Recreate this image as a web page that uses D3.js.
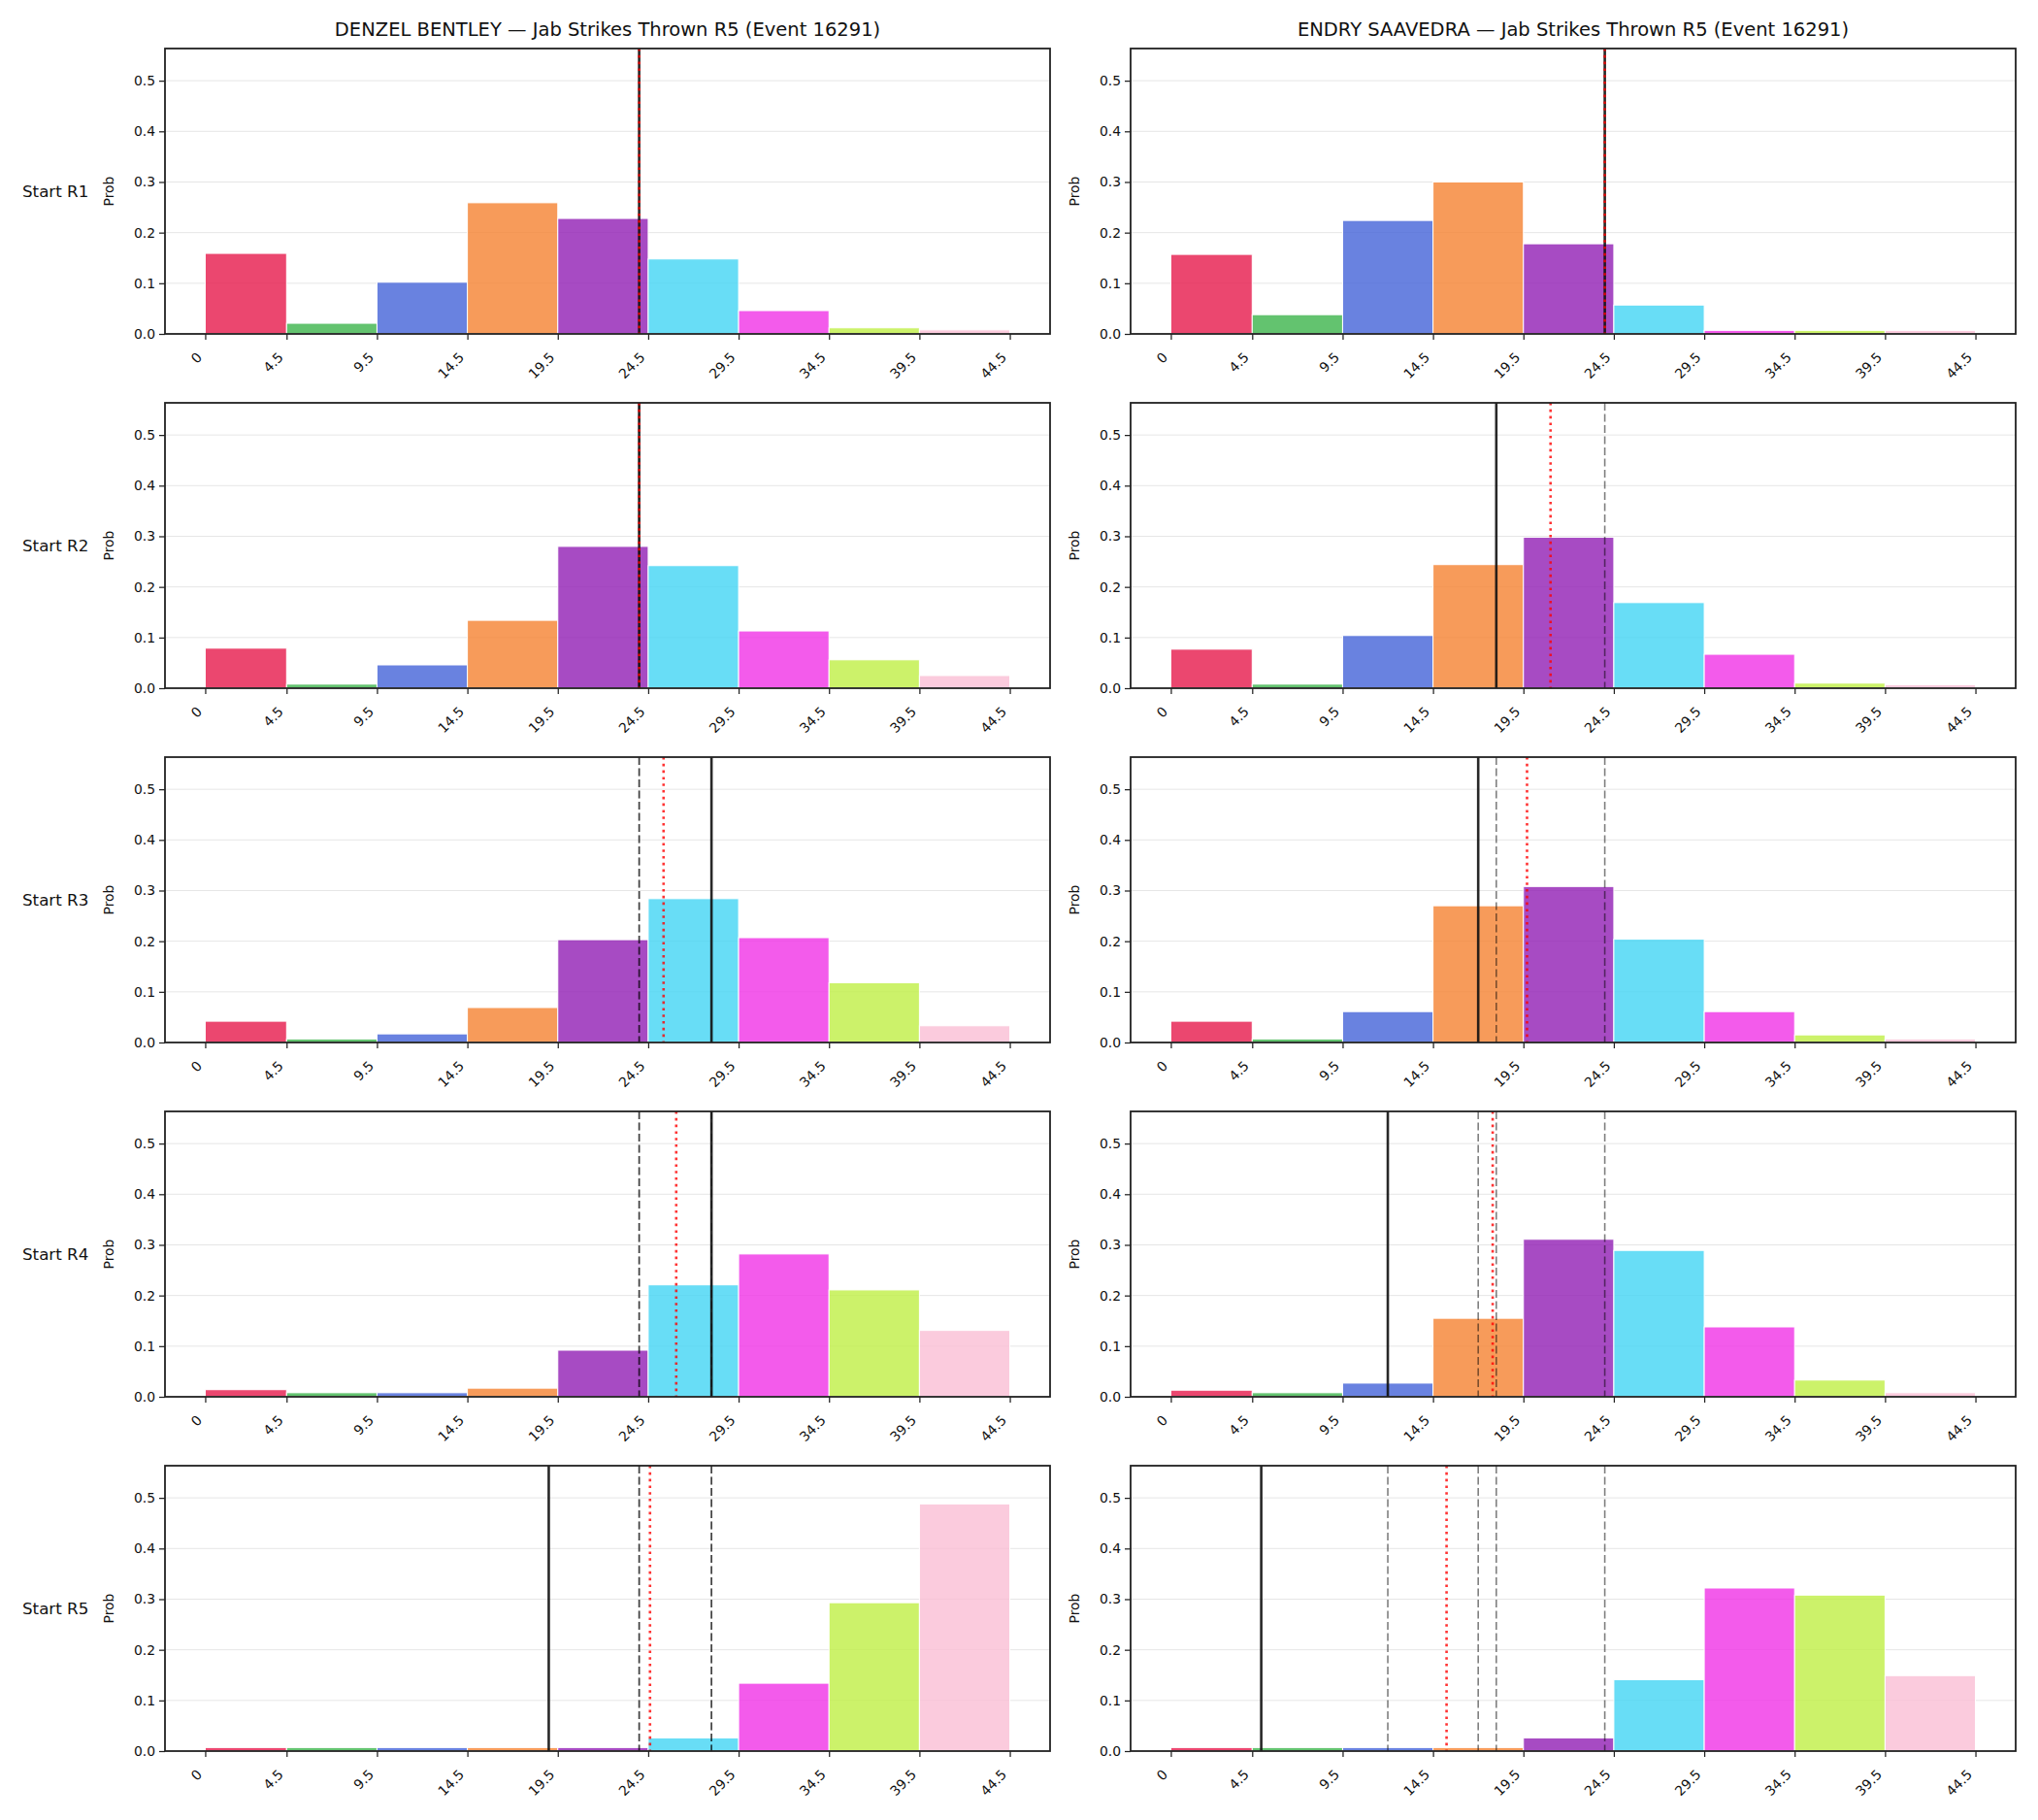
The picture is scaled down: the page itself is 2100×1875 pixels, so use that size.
<!DOCTYPE html>
<html lang="en">
<head>
<meta charset="UTF-8">
<title>Jab Strikes Thrown R5 (Event 16291)</title>
<script src="https://cdn.jsdelivr.net/npm/d3@7"></script>
<style>
    body { margin: 0; background: #fff; }
    svg { font-family: "DejaVu Sans", sans-serif; }
    .grid line { stroke: #e6e6e6; stroke-width: 1; }
    .tick-label { font-size: 13.9px; fill: #111; }
</style>
</head>
<body>
<div id="graphDiv"></div>
<script>
// bin edges of the histogram (also the x tick positions)
const binEdges = [0, 4.5, 9.5, 14.5, 19.5, 24.5, 29.5, 34.5, 39.5, 44.5];
const xTickLabels = ["0", "4.5", "9.5", "14.5", "19.5", "24.5", "29.5", "34.5", "39.5", "44.5"];
const yTicks = [0.0, 0.1, 0.2, 0.3, 0.4, 0.5];
const binColors = ["#e6194b", "#3cb44b", "#4363d8", "#f58231", "#911eb4",
                   "#42d4f4", "#f032e6", "#bfef45", "#fabed4"];

const fighters = ["DENZEL BENTLEY", "ENDRY SAAVEDRA"];
const titleSuffix = " \u2014 Jab Strikes Thrown R5 (Event 16291)";
const rowLabels = ["Start R1", "Start R2", "Start R3", "Start R4", "Start R5"];

// probability per bin, one row per starting round
const denzelProbs = [
    [0.159, 0.021, 0.102, 0.259, 0.228, 0.148, 0.046, 0.012, 0.008],
    [0.079, 0.008, 0.046, 0.134, 0.280, 0.242, 0.113, 0.056, 0.025],
    [0.042, 0.007, 0.017, 0.069, 0.203, 0.284, 0.207, 0.118, 0.033],
    [0.014, 0.008, 0.008, 0.017, 0.092, 0.221, 0.282, 0.211, 0.131],
    [0.007, 0.007, 0.007, 0.007, 0.007, 0.026, 0.134, 0.293, 0.488]
];
const endryProbs = [
    [0.157, 0.038, 0.224, 0.300, 0.178, 0.057, 0.007, 0.007, 0.007],
    [0.077, 0.008, 0.104, 0.244, 0.298, 0.169, 0.067, 0.010, 0.007],
    [0.042, 0.007, 0.061, 0.270, 0.308, 0.204, 0.061, 0.015, 0.007],
    [0.013, 0.008, 0.027, 0.155, 0.311, 0.289, 0.138, 0.033, 0.008],
    [0.007, 0.007, 0.007, 0.007, 0.026, 0.141, 0.322, 0.308, 0.149]
];

// solid black marker per row (earlier rows are shown dashed)
const denzelMarks = [24, 24, 28, 28, 19];
const endryMarks = [24, 18, 17, 12, 5];
// red dotted line per row
const denzelRed = [24, 24, 25.35, 26.05, 24.6];
const endryRed = [24, 21, 19.7, 17.8, 15.25];

const panels = [
    {name: fighters[0], probs: denzelProbs, marks: denzelMarks, red: denzelRed},
    {name: fighters[1], probs: endryProbs, marks: endryMarks, red: endryRed}
];

const width = 2100, height = 1875;
const colX = [170, 1165];
const axW = 912, axH = 294;
const rowTop = 50, rowStep = 365;

const x = d3.scaleLinear().domain([-2.225, 46.725]).range([0, axW]);
const y = d3.scaleLinear().domain([0, 0.5635]).range([axH, 0]);

const svg = d3.select("#graphDiv").append("svg")
    .attr("width", width)
    .attr("height", height);

svg.append("rect").attr("width", width).attr("height", height).attr("fill", "#fff");

panels.forEach((p, c) => {
    // column title
    svg.append("text")
        .attr("x", colX[c] + axW / 2)
        .attr("y", rowTop - 13)
        .attr("text-anchor", "middle")
        .style("font-size", "19.5px")
        .attr("fill", "#111")
        .text(p.name + titleSuffix);

    p.probs.forEach((probs, r) => {
        const g = svg.append("g")
            .attr("transform", `translate(${colX[c]},${rowTop + r * rowStep})`);

        // grid
        g.append("g").attr("class", "grid")
            .selectAll("line")
            .data(yTicks.slice(1))
            .join("line")
            .attr("x1", 0).attr("x2", axW)
            .attr("y1", d => y(d)).attr("y2", d => y(d));

        // bars
        g.append("g")
            .selectAll("rect")
            .data(probs)
            .join("rect")
            .attr("x", (d, i) => x(binEdges[i]))
            .attr("width", (d, i) => x(binEdges[i + 1]) - x(binEdges[i]))
            .attr("y", d => y(d))
            .attr("height", d => y(0) - y(d))
            .attr("fill", (d, i) => binColors[i])
            .attr("fill-opacity", 0.8)
            .attr("stroke", "#fff")
            .attr("stroke-width", 1);

        // earlier markers, dashed
        g.append("g")
            .selectAll("line")
            .data(p.marks.slice(0, r))
            .join("line")
            .attr("x1", d => x(d)).attr("x2", d => x(d))
            .attr("y1", 0).attr("y2", axH)
            .attr("stroke", "#000")
            .attr("stroke-opacity", 0.5)
            .attr("stroke-width", 1.6)
            .attr("stroke-dasharray", "8,3.5");

        // current marker, solid
        g.append("line")
            .attr("x1", x(p.marks[r])).attr("x2", x(p.marks[r]))
            .attr("y1", 0).attr("y2", axH)
            .attr("stroke", "#111")
            .attr("stroke-opacity", 0.9)
            .attr("stroke-width", 2.6);

        // red dotted line
        g.append("line")
            .attr("x1", x(p.red[r])).attr("x2", x(p.red[r]))
            .attr("y1", 0).attr("y2", axH)
            .attr("stroke", "#ff0000")
            .attr("stroke-opacity", 0.8)
            .attr("stroke-width", 2.6)
            .attr("stroke-dasharray", "2.6,4.2");

        // y axis
        const yAxis = g.append("g")
            .call(d3.axisLeft(y).tickValues(yTicks).tickFormat(d3.format(".1f")).tickSize(6).tickPadding(4));
        yAxis.select(".domain").remove();
        yAxis.selectAll(".tick line").attr("stroke", "#222").attr("stroke-width", 1.25);
        yAxis.selectAll(".tick text")
            .attr("class", "tick-label")
            .style("font-family", "DejaVu Sans")
            .style("font-size", "13.9px");

        // x axis ticks
        const xAxis = g.append("g")
            .attr("transform", `translate(0,${axH})`)
            .call(d3.axisBottom(x).tickValues(binEdges).tickFormat((d, i) => xTickLabels[i]).tickSize(6));
        xAxis.select(".domain").remove();
        xAxis.selectAll(".tick line").attr("stroke", "#222").attr("stroke-width", 1.25);
        xAxis.selectAll(".tick text")
            .attr("class", "tick-label")
            .style("font-family", "DejaVu Sans")
            .style("font-size", "13.9px")
            .attr("text-anchor", "end")
            .attr("dy", null)
            .attr("y", null)
            .attr("transform", "translate(-3,25) rotate(-45)");

        // frame
        g.append("rect")
            .attr("width", axW).attr("height", axH)
            .attr("fill", "none")
            .attr("stroke", "#222")
            .attr("stroke-width", 1.8);

        // y label
        g.append("text")
            .attr("transform", `translate(-53,${axH / 2}) rotate(-90)`)
            .attr("text-anchor", "middle")
            .style("font-size", "13.9px")
            .attr("fill", "#111")
            .text("Prob");

        // row label on the left column
        if (c === 0) {
            g.append("text")
                .attr("x", -147)
                .attr("y", axH / 2 + 6)
                .style("font-size", "16.7px")
                .attr("fill", "#111")
                .text(rowLabels[r]);
        }
    });
});
</script>
</body>
</html>
